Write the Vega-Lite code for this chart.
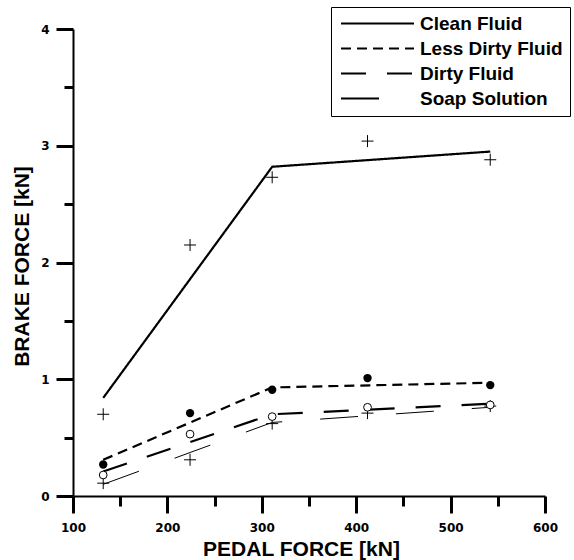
{
  "$schema": "https://vega.github.io/schema/vega-lite/v6.json",
  "width": 472,
  "height": 467,
  "autosize": {"type": "none"},
  "padding": {"left": 73, "top": 29, "right": 29, "bottom": 64},
  "background": "white",
  "config": {
    "view": {"stroke": null},
    "axis": {
      "grid": false,
      "domainColor": "black",
      "domainWidth": 2,
      "tickColor": "black",
      "tickWidth": 3,
      "labelFont": "DejaVu Sans",
      "labelFontSize": 12,
      "labelFontWeight": "bold",
      "labelColor": "black",
      "titleFont": "Liberation Sans",
      "titleFontSize": 21,
      "titleFontWeight": "bold",
      "titleColor": "black"
    }
  },
  "datasets": {
    "fits": [
      {"series": "Clean Fluid", "x": 132, "y": 0.84},
      {"series": "Clean Fluid", "x": 311, "y": 2.82},
      {"series": "Clean Fluid", "x": 542, "y": 2.95},
      {"series": "Less Dirty Fluid", "x": 132, "y": 0.31},
      {"series": "Less Dirty Fluid", "x": 311, "y": 0.93},
      {"series": "Less Dirty Fluid", "x": 542, "y": 0.97},
      {"series": "Dirty Fluid", "x": 132, "y": 0.21},
      {"series": "Dirty Fluid", "x": 311, "y": 0.70},
      {"series": "Dirty Fluid", "x": 542, "y": 0.79},
      {"series": "Soap Solution", "x": 132, "y": 0.10},
      {"series": "Soap Solution", "x": 311, "y": 0.63},
      {"series": "Soap Solution", "x": 542, "y": 0.76}
    ],
    "obs": [
      {"fluid": "Clean Fluid", "x": 132, "y": 0.70},
      {"fluid": "Clean Fluid", "x": 224, "y": 2.15},
      {"fluid": "Clean Fluid", "x": 311, "y": 2.73},
      {"fluid": "Clean Fluid", "x": 412, "y": 3.04},
      {"fluid": "Clean Fluid", "x": 542, "y": 2.88},
      {"fluid": "Less Dirty Fluid", "x": 132, "y": 0.27},
      {"fluid": "Less Dirty Fluid", "x": 224, "y": 0.71},
      {"fluid": "Less Dirty Fluid", "x": 311, "y": 0.91},
      {"fluid": "Less Dirty Fluid", "x": 412, "y": 1.01},
      {"fluid": "Less Dirty Fluid", "x": 542, "y": 0.95},
      {"fluid": "Dirty Fluid", "x": 132, "y": 0.18},
      {"fluid": "Dirty Fluid", "x": 224, "y": 0.53},
      {"fluid": "Dirty Fluid", "x": 311, "y": 0.68},
      {"fluid": "Dirty Fluid", "x": 412, "y": 0.76},
      {"fluid": "Dirty Fluid", "x": 542, "y": 0.78},
      {"fluid": "Soap Solution", "x": 132, "y": 0.11},
      {"fluid": "Soap Solution", "x": 224, "y": 0.31},
      {"fluid": "Soap Solution", "x": 311, "y": 0.62},
      {"fluid": "Soap Solution", "x": 412, "y": 0.71},
      {"fluid": "Soap Solution", "x": 542, "y": 0.77}
    ]
  },
  "resolve": {"axis": {"x": "independent", "y": "independent"}},
  "layer": [
    {
      "data": {"name": "fits"},
      "transform": [{"filter": "datum.series !== 'Soap Solution'"}],
      "mark": {"type": "line", "color": "black", "strokeWidth": 2.2},
      "encoding": {
        "x": {
          "field": "x",
          "type": "quantitative",
          "scale": {"domain": [100, 600], "nice": false, "zero": false},
          "axis": {
            "orient": "bottom",
            "title": "PEDAL FORCE [kN]",
            "values": [100, 200, 300, 400, 500, 600],
            "format": "d",
            "tickSize": 17,
            "tickWidth": 3,
            "tickColor": "black",
            "domainWidth": 2,
            "domainColor": "black",
            "labelPadding": 9,
            "labelFlush": false,
            "titleX": 228,
            "titleY": 59,
            "titleBaseline": "alphabetic",
            "titleAlign": "center"
          }
        },
        "y": {
          "field": "y",
          "type": "quantitative",
          "scale": {"domain": [0, 4], "nice": false},
          "axis": {
            "orient": "left",
            "title": "BRAKE FORCE [kN]",
            "values": [0, 1, 2, 3, 4],
            "format": "d",
            "tickSize": 17,
            "tickWidth": 3,
            "tickColor": "black",
            "domainWidth": 2,
            "domainColor": "black",
            "labelPadding": 7,
            "labelFlush": false,
            "titleX": -45,
            "titleY": 237,
            "titleBaseline": "alphabetic",
            "titleAlign": "center"
          }
        },
        "strokeDash": {
          "field": "series",
          "type": "nominal",
          "scale": {
            "domain": ["Clean Fluid", "Less Dirty Fluid", "Dirty Fluid", "Soap Solution"],
            "range": [[1, 0], [10, 6], [25, 21], [38, 38]]
          },
          "legend": {
            "title": null,
            "orient": "none",
            "legendX": 258,
            "legendY": -22,
            "padding": 7,
            "strokeColor": "black",
            "labelFont": "Liberation Sans",
            "labelFontSize": 19,
            "labelFontWeight": "bold",
            "labelColor": "black",
            "symbolType": "M-7.3,0H7.3",
            "symbolStrokeColor": "black",
            "symbolStrokeWidth": 2.2,
            "symbolSize": 100,
            "symbolOffset": 30,
            "labelOffset": 33,
            "rowPadding": 5
          }
        }
      }
    },
    {
      "data": {"name": "fits"},
      "transform": [{"filter": "datum.series === 'Soap Solution'"}],
      "mark": {"type": "line", "color": "black", "strokeWidth": 1},
      "encoding": {
        "x": {"field": "x", "type": "quantitative", "axis": null},
        "y": {"field": "y", "type": "quantitative", "axis": null},
        "strokeDash": {"field": "series", "type": "nominal"}
      }
    },
    {
      "data": {"name": "obs"},
      "transform": [{"filter": "datum.fluid === 'Clean Fluid' || datum.fluid === 'Soap Solution'"}],
      "mark": {"type": "point", "shape": "M-1,0H1M0,-1V1", "size": 144, "filled": false, "stroke": "black", "strokeWidth": 1, "opacity": 1},
      "encoding": {
        "x": {
          "field": "x",
          "type": "quantitative",
          "axis": {
            "orient": "bottom",
            "title": null,
            "values": [150, 250, 350, 450, 550],
            "labels": false,
            "domain": false,
            "tickSize": 10,
            "tickWidth": 3,
            "tickColor": "black"
          }
        },
        "y": {
          "field": "y",
          "type": "quantitative",
          "axis": {
            "orient": "left",
            "title": null,
            "values": [0.5, 1.5, 2.5, 3.5],
            "labels": false,
            "domain": false,
            "tickSize": 9,
            "tickWidth": 3,
            "tickColor": "black"
          }
        }
      }
    },
    {
      "data": {"name": "obs"},
      "transform": [{"filter": "datum.fluid === 'Less Dirty Fluid'"}],
      "mark": {"type": "point", "shape": "circle", "size": 70, "filled": true, "color": "black", "opacity": 1},
      "encoding": {
        "x": {"field": "x", "type": "quantitative", "axis": null},
        "y": {"field": "y", "type": "quantitative", "axis": null}
      }
    },
    {
      "data": {"name": "obs"},
      "transform": [{"filter": "datum.fluid === 'Dirty Fluid'"}],
      "mark": {"type": "point", "shape": "circle", "size": 60, "filled": false, "fill": "white", "stroke": "black", "strokeWidth": 1, "opacity": 1},
      "encoding": {
        "x": {"field": "x", "type": "quantitative", "axis": null},
        "y": {"field": "y", "type": "quantitative", "axis": null}
      }
    }
  ]
}
